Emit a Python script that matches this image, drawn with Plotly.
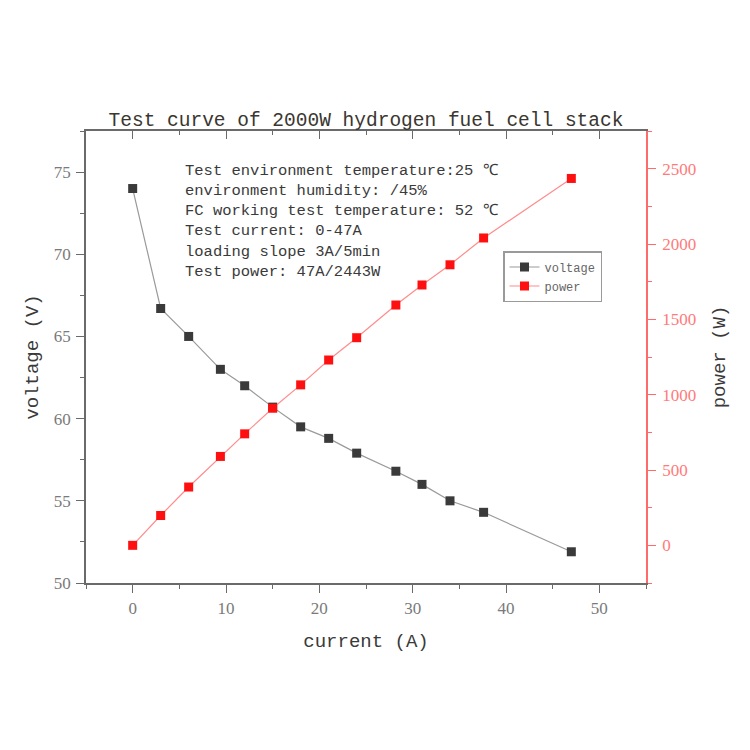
import plotly.graph_objects as go

# ---- data ----
current = [0, 3, 6, 9.4, 12, 15, 18, 21, 24, 28.2, 31, 34, 37.6, 47]
voltage = [74.0, 66.7, 65.0, 63.0, 62.0, 60.7, 59.5, 58.8, 57.9, 56.8, 56.0, 55.0, 54.3, 51.9]
power = [0, 198, 387, 590, 740, 910, 1065, 1230, 1378, 1595, 1728, 1862, 2040, 2435]

title_text = "Test curve of 2000W hydrogen fuel cell stack"
note_lines = [
    "Test environment temperature:25 ℃",
    "environment humidity: /45%",
    "FC working test temperature: 52 ℃",
    "Test current: 0-47A",
    "loading slope 3A/5min",
    "Test power: 47A/2443W",
]

MONO = "Liberation Mono"
SERIF = "Liberation Serif"
GREY_AX = "#6a6a6a"
GREY_TXT = "#7a7a7a"
RED_AX = "#ff6b6b"

fig = go.Figure()
fig.add_trace(go.Scatter(
    x=current, y=voltage, name="voltage", mode="lines+markers",
    line=dict(color="#9a9a9a", width=1.2),
    marker=dict(symbol="square", size=9, color="#3a3a3a"),
    yaxis="y",
))
fig.add_trace(go.Scatter(
    x=current, y=power, name="power", mode="lines+markers",
    line=dict(color="#ff8c8c", width=1.2),
    marker=dict(symbol="square", size=9, color="#ff1010"),
    yaxis="y2",
))
# empty trace so the top (mirrored) axis with inward ticks is drawn
fig.add_trace(go.Scatter(x=[], y=[], xaxis="x2", yaxis="y", showlegend=False, hoverinfo="skip"))

fig.update_layout(
    width=750, height=750,
    paper_bgcolor="white", plot_bgcolor="white",
    margin=dict(l=78, r=112, t=123, b=175),
    font=dict(family=SERIF, size=17, color=GREY_TXT),
    title=dict(
        text=title_text, x=0.5, xref="paper", y=1 - 111 / 750, yref="container",
        xanchor="center", yanchor="middle",
        font=dict(family=MONO, size=19.5, color="#3a3630"),
    ),
    xaxis=dict(
        range=[-5, 55], dtick=10, tick0=0,
        showline=True, linecolor=GREY_AX, linewidth=1.6,
        ticks="outside", ticklen=8, tickwidth=1.4, tickcolor=GREY_AX,
        minor=dict(dtick=5, ticklen=4, tickwidth=1.2, tickcolor=GREY_AX, ticks="outside", showgrid=False),
        showgrid=False, zeroline=False, ticklabelstandoff=1,
        tickfont=dict(family=SERIF, size=17, color=GREY_TXT),
        title=dict(text="current (A)", font=dict(family=MONO, size=19, color="#3a3a3a"), standoff=16),
    ),
    xaxis2=dict(
        range=[-5, 55], dtick=10, tick0=0, overlaying="x", side="top", matches="x",
        showline=True, linecolor=GREY_AX, linewidth=1.6,
        ticks="inside", ticklen=8, tickwidth=1.4, tickcolor=GREY_AX,
        minor=dict(dtick=5, ticklen=4, tickwidth=1.2, tickcolor=GREY_AX, ticks="inside", showgrid=False),
        showticklabels=False, showgrid=False, zeroline=False,
    ),
    yaxis=dict(
        range=[50, 77.5], dtick=5, tick0=50,
        showline=True, linecolor=GREY_AX, linewidth=1.6,
        ticks="outside", ticklen=8, tickwidth=1.4, tickcolor=GREY_AX,
        minor=dict(dtick=2.5, ticklen=4, tickwidth=1.2, tickcolor=GREY_AX, ticks="outside", showgrid=False),
        showgrid=False, zeroline=False, ticklabelstandoff=2,
        tickfont=dict(family=SERIF, size=17, color=GREY_TXT),
        title=dict(text="voltage (V)", font=dict(family=MONO, size=19, color="#3a3a3a"), standoff=10),
    ),
    yaxis2=dict(
        range=[-250, 2750], dtick=500, tick0=0, overlaying="y", side="right",
        showline=True, linecolor=RED_AX, linewidth=1.6,
        ticks="outside", ticklen=8, tickwidth=1.4, tickcolor=RED_AX,
        minor=dict(dtick=250, ticklen=4, tickwidth=1.2, tickcolor=RED_AX, ticks="outside", showgrid=False),
        showgrid=False, zeroline=False, ticklabelstandoff=3,
        tickfont=dict(family=SERIF, size=17, color="#ff7a7a"),
        title=dict(text="power (W)", font=dict(family=MONO, size=19, color="#3a3a3a"), standoff=16),
    ),
    legend=dict(
        x=(503 - 86) / 560, y=(583 - 251) / 452, xanchor="left", yanchor="top",
        bgcolor="white", bordercolor="#9a9a9a", borderwidth=1.5,
        font=dict(family=MONO, size=12, color="#666666"),
        tracegroupgap=0, itemwidth=30,
    ),
    showlegend=True,
)

fig.add_annotation(
    text="<br>".join(note_lines),
    xref="paper", yref="paper",
    x=(183 - 86) / 560, y=(583 - 160) / 452,
    xanchor="left", yanchor="top", align="left", showarrow=False,
    font=dict(family=MONO, size=15.5, color="#3a3a3a"),
)

fig.write_html("out.html")
